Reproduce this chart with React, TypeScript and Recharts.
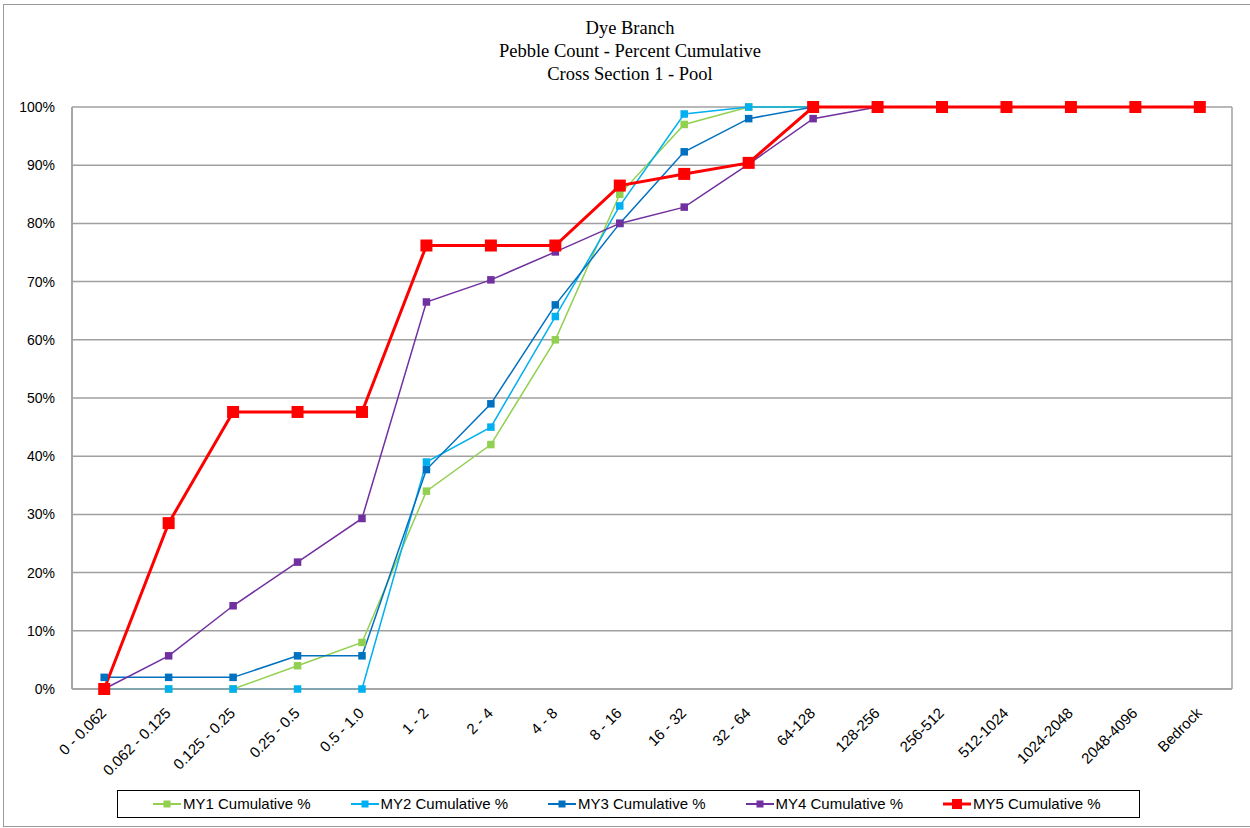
import { CartesianGrid, Line, LineChart, XAxis, YAxis } from "recharts";

const categories = [
  "0 - 0.062",
  "0.062 - 0.125",
  "0.125 - 0.25",
  "0.25 - 0.5",
  "0.5 - 1.0",
  "1 - 2",
  "2 - 4",
  "4 - 8",
  "8 - 16",
  "16 - 32",
  "32 - 64",
  "64-128",
  "128-256",
  "256-512",
  "512-1024",
  "1024-2048",
  "2048-4096",
  "Bedrock",
];

const my1 = [0, 0, 0, 4, 8, 34, 42, 60, 85, 97, 100, 100, 100, 100, 100, 100, 100, 100];
const my2 = [0, 0, 0, 0, 0, 39, 45, 64, 83, 98.8, 100, 100, 100, 100, 100, 100, 100, 100];
const my3 = [2, 2, 2, 5.7, 5.7, 37.7, 49, 66, 80, 92.3, 98, 100, 100, 100, 100, 100, 100, 100];
const my4 = [0, 5.7, 14.3, 21.8, 29.3, 66.5, 70.3, 75.1, 80, 82.8, 90.2, 98, 100, 100, 100, 100, 100, 100];
const my5 = [0, 28.5, 47.6, 47.6, 47.6, 76.2, 76.2, 76.2, 86.5, 88.5, 90.4, 100, 100, 100, 100, 100, 100, 100];

const yTicks = [0, 10, 20, 30, 40, 50, 60, 70, 80, 90, 100];

const series = [
  { key: "my1", name: "MY1 Cumulative %", color: "#92D050", values: my1, big: false },
  { key: "my2", name: "MY2 Cumulative %", color: "#00B0F0", values: my2, big: false },
  { key: "my3", name: "MY3 Cumulative %", color: "#0070C0", values: my3, big: false },
  { key: "my4", name: "MY4 Cumulative %", color: "#7030A0", values: my4, big: false },
  { key: "my5", name: "MY5 Cumulative %", color: "#FF0000", values: my5, big: true },
];

const data = categories.map((c, i) => {
  const row: Record<string, string | number> = { name: c };
  series.forEach((s) => (row[s.key] = s.values[i]));
  return row;
});

const sans = "'Liberation Sans', Arial, sans-serif";

function squareDot(size: number, color: string) {
  return (props: any) => {
    const { cx, cy, index } = props;
    if (cx == null || cy == null) return <g key={index} />;
    return (
      <rect
        key={index}
        x={cx - size / 2}
        y={cy - size / 2}
        width={size}
        height={size}
        fill={color}
      />
    );
  };
}

function XTick(props: any) {
  const { x, y, payload } = props;
  const px = x + 3;
  const py = y + 25;
  return (
    <text
      x={px}
      y={py}
      textAnchor="end"
      fontSize={15}
      fontFamily={sans}
      fill="#000"
      transform={`rotate(-45, ${px}, ${py})`}
    >
      {payload.value}
    </text>
  );
}

function LegendBox() {
  return (
    <div
      style={{
        position: "absolute",
        left: 117,
        top: 790,
        width: 1023,
        height: 28,
        border: "1.5px solid #000",
        boxSizing: "border-box",
        fontFamily: sans,
        fontSize: 15,
      }}
    >
      {series.map((s, i) => (
        <div
          key={s.key}
          style={{
            position: "absolute",
            left: 35 + i * 197.5,
            top: 0,
            height: 25,
            display: "flex",
            alignItems: "center",
            whiteSpace: "nowrap",
          }}
        >
          <svg width={30} height={14}>
            <line x1={0} y1={7} x2={28} y2={7} stroke={s.color} strokeWidth={s.big ? 3 : 2} />
            <rect
              x={14 - (s.big ? 5 : 3.5)}
              y={7 - (s.big ? 5 : 3.5)}
              width={s.big ? 10 : 7}
              height={s.big ? 10 : 7}
              fill={s.color}
            />
          </svg>
          <span>{s.name}</span>
        </div>
      ))}
    </div>
  );
}

export default function App() {
  return (
    <div
      style={{
        position: "absolute",
        left: 0,
        top: 0,
        width: 1250,
        height: 828,
        overflow: "hidden",
        background: "#fff",
      }}
    >
      <div
        style={{
          position: "absolute",
          left: 3,
          top: 4,
          width: 1260,
          height: 821,
          border: "1px solid #999",
        }}
      />
      <div
        style={{
          position: "absolute",
          left: 430,
          top: 17,
          width: 400,
          textAlign: "center",
          fontFamily: "'Liberation Serif', 'Times New Roman', serif",
          fontSize: 18.5,
          lineHeight: "23px",
          color: "#000",
        }}
      >
        <div>Dye Branch</div>
        <div>Pebble Count - Percent Cumulative</div>
        <div>Cross Section 1 - Pool</div>
      </div>
      <div style={{ position: "absolute", left: 0, top: 0 }}>
        <LineChart
          width={1250}
          height={828}
          data={data}
          margin={{ top: 107, right: 18, left: 12, bottom: 39 }}
        >
          <CartesianGrid
            stroke="#a0a0a0"
            strokeWidth={1.5}
            vertical={true}
            verticalCoordinatesGenerator={({ offset }: any) => [
              offset.left,
              offset.left + offset.width,
            ]}
          />
          <XAxis
            dataKey="name"
            interval={0}
            height={100}
            padding={{ left: 32.2, right: 32.2 }}
            tickLine={false}
            tickSize={0}
            tickMargin={0}
            axisLine={{ stroke: "#a0a0a0", strokeWidth: 1.5 }}
            tick={<XTick />}
          />
          <YAxis
            width={60}
            domain={[0, 100]}
            ticks={yTicks}
            interval={0}
            tickLine={false}
            tickSize={0}
            tickMargin={17}
            axisLine={{ stroke: "#a0a0a0", strokeWidth: 1.5 }}
            tickFormatter={(v) => `${v}%`}
            tick={{ fontSize: 14, fontFamily: sans, fill: "#000" }}
          />
          {series.map((s) => (
            <Line
              key={s.key}
              dataKey={s.key}
              name={s.name}
              stroke={s.color}
              strokeWidth={s.big ? 3 : 1.5}
              dot={squareDot(s.big ? 12 : 7.5, s.color)}
              activeDot={false}
              isAnimationActive={false}
            />
          ))}
        </LineChart>
      </div>
      <LegendBox />
    </div>
  );
}
